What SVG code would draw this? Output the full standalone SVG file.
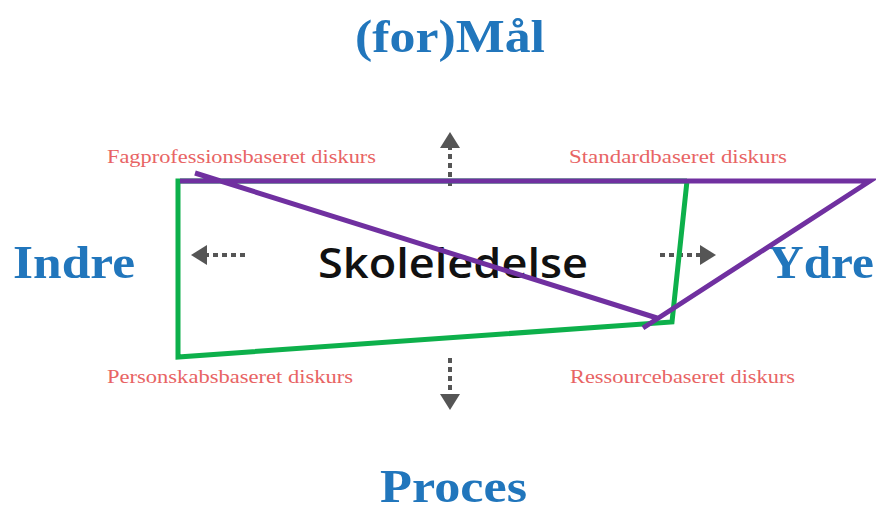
<svg xmlns="http://www.w3.org/2000/svg" width="876" height="513" viewBox="0 0 876 513">
<style>
.title{font-family:"Liberation Serif","DejaVu Serif",serif;font-weight:bold;fill:#2176bc;font-size:47px}
.lbl{font-family:"Liberation Serif","DejaVu Serif",serif;fill:#e86464;font-size:19px}
.main{font-family:"Open Sans","Liberation Sans",sans-serif;font-weight:600;fill:#111;font-size:42px}
.dash{stroke:#555;stroke-width:4;stroke-dasharray:5 4;fill:none}
.head{fill:#555}
</style>
<rect width="876" height="513" fill="#fff"/>
<g id="title-top"><text class="title" x="355" y="52" textLength="190" lengthAdjust="spacingAndGlyphs">(for)Mål</text></g>
<g id="title-left"><text class="title" x="13" y="278" textLength="122" lengthAdjust="spacingAndGlyphs">Indre</text></g>
<g id="title-right"><text class="title" x="768" y="278" textLength="106" lengthAdjust="spacingAndGlyphs">Ydre</text></g>
<g id="title-bottom"><text class="title" x="380" y="502" font-size="45" textLength="147" lengthAdjust="spacingAndGlyphs">Proces</text></g>
<g id="center"><text class="main" x="318" y="278" textLength="270" lengthAdjust="spacingAndGlyphs">Skoleledelse</text></g>
<g id="labels">
<text class="lbl" x="107" y="163" textLength="269" lengthAdjust="spacingAndGlyphs">Fagprofessionsbaseret diskurs</text>
<text class="lbl" x="569" y="163" textLength="218" lengthAdjust="spacingAndGlyphs">Standardbaseret diskurs</text>
<text class="lbl" x="107" y="383" textLength="246" lengthAdjust="spacingAndGlyphs">Personskabsbaseret diskurs</text>
<text class="lbl" x="570" y="383" textLength="225" lengthAdjust="spacingAndGlyphs">Ressourcebaseret diskurs</text>
</g>
<g id="arrows">
<line class="dash" x1="450" y1="186" x2="450" y2="146"/>
<polygon class="head" points="440,148 460,148 450,132"/>
<line class="dash" x1="245" y1="255" x2="205" y2="255"/>
<polygon class="head" points="207,245 207,265 191,255"/>
<line class="dash" x1="660" y1="255" x2="702" y2="255"/>
<polygon class="head" points="700,245 700,265 716,255"/>
<line class="dash" x1="450" y1="358" x2="450" y2="396"/>
<polygon class="head" points="440,394 460,394 450,410"/>
</g>
<g id="connectors" fill="none" stroke-width="5" stroke-linejoin="miter">
<polyline stroke="#0db04b" points="687,181 178,181 178,357 672,322 687,181"/>
<path stroke="#7030a0" d="M195,173 L657,318 M643,328 L870,181 L180,181"/>
</g>
</svg>
